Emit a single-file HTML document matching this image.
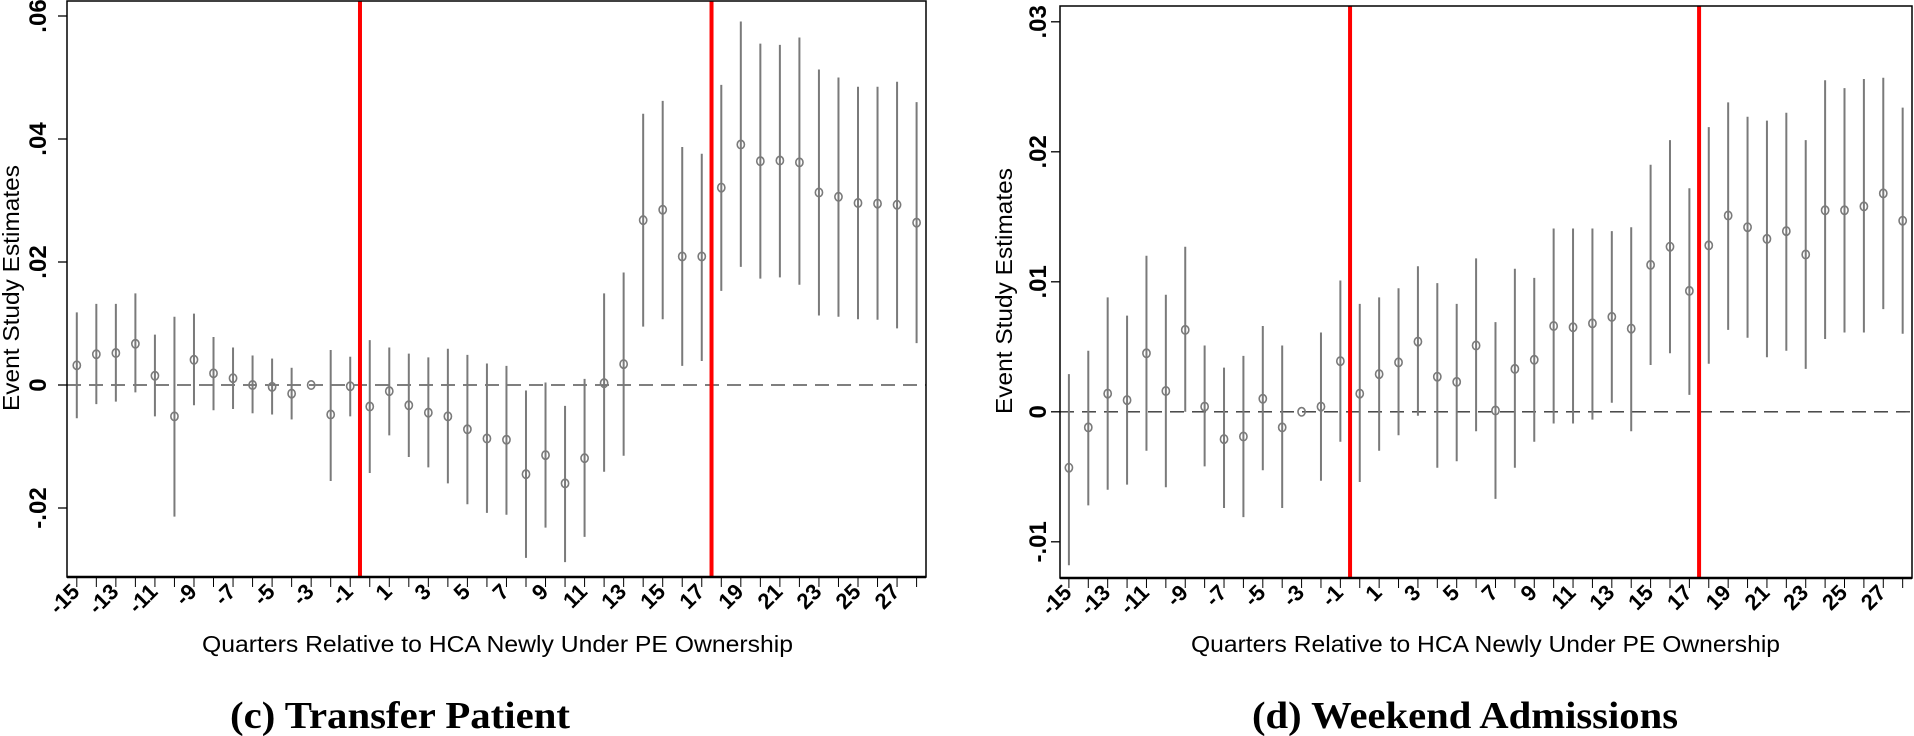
<!DOCTYPE html>
<html><head><meta charset="utf-8"><style>
html,body{margin:0;padding:0;background:#fff;}
svg{display:block;}
</style></head><body>
<svg id="chart" width="1914" height="736" viewBox="0 0 1914 736" xmlns="http://www.w3.org/2000/svg"></svg>
<script>
// quarters relative to event
const quarters = [-15,-14,-13,-12,-11,-10,-9,-8,-7,-6,-5,-4,-3,-2,-1,0,1,2,3,4,5,6,7,8,9,10,11,12,13,14,15,16,17,18,19,20,21,22,23,24,25,26,27,28];
// panel c: transfer patient
const transferEst = [0.0032,0.005,0.0052,0.0067,0.0015,-0.0051,0.0041,0.0019,0.0011,0,-0.0003,-0.0014,0,-0.0048,-0.0002,-0.0035,-0.001,-0.0033,-0.0045,-0.0051,-0.0072,-0.0087,-0.0089,-0.0145,-0.0114,-0.016,-0.0119,0.0003,0.0034,0.0268,0.0285,0.0209,0.0209,0.0321,0.0391,0.0364,0.0365,0.0362,0.0313,0.0306,0.0296,0.0295,0.0293,0.0264];
const transferHi = [0.0118,0.0132,0.0132,0.0149,0.0082,0.0111,0.0116,0.0078,0.0061,0.0048,0.0043,0.0028,0,0.0057,0.0046,0.0073,0.0061,0.0051,0.0045,0.0059,0.0049,0.0035,0.0031,-0.0009,0.0004,-0.0034,0.001,0.0149,0.0183,0.0441,0.0462,0.0387,0.0376,0.0488,0.0591,0.0555,0.0553,0.0565,0.0513,0.05,0.0485,0.0485,0.0493,0.046];
const transferLo = [-0.0054,-0.0031,-0.0027,-0.0012,-0.0051,-0.0214,-0.0033,-0.0041,-0.0039,-0.0046,-0.0048,-0.0056,0,-0.0156,-0.0051,-0.0143,-0.0082,-0.0117,-0.0134,-0.016,-0.0194,-0.0208,-0.0211,-0.0281,-0.0232,-0.0288,-0.0247,-0.0141,-0.0115,0.0095,0.0107,0.0031,0.0039,0.0153,0.0192,0.0173,0.0175,0.0163,0.0113,0.0111,0.0107,0.0106,0.0092,0.0068];
const transferTicks = [-0.02,0,0.02,0.04,0.06];
const transferTickLabels = ["-.02","0",".02",".04",".06"];
// panel d: weekend admissions
const weekendEst = [-0.0043,-0.0012,0.0014,0.0009,0.0045,0.0016,0.0063,0.0004,-0.0021,-0.0019,0.001,-0.0012,0,0.0004,0.0039,0.0014,0.0029,0.0038,0.0054,0.0027,0.0023,0.0051,0.0001,0.0033,0.004,0.0066,0.0065,0.0068,0.0073,0.0064,0.0113,0.0127,0.0093,0.0128,0.0151,0.0142,0.0133,0.0139,0.0121,0.0155,0.0155,0.0158,0.0168,0.0147];
const weekendHi = [0.0029,0.0047,0.0088,0.0074,0.012,0.009,0.0127,0.0051,0.0034,0.0043,0.0066,0.0051,0,0.0061,0.0101,0.0083,0.0088,0.0095,0.0112,0.0099,0.0083,0.0118,0.0069,0.011,0.0103,0.0141,0.0141,0.0141,0.0139,0.0142,0.019,0.0209,0.0172,0.0219,0.0238,0.0227,0.0224,0.023,0.0209,0.0255,0.0249,0.0256,0.0257,0.0234];
const weekendLo = [-0.0118,-0.0072,-0.006,-0.0056,-0.003,-0.0058,0,-0.0042,-0.0074,-0.0081,-0.0045,-0.0074,0,-0.0053,-0.0023,-0.0054,-0.003,-0.0018,-0.0003,-0.0043,-0.0038,-0.0015,-0.0067,-0.0043,-0.0023,-0.0009,-0.0009,-0.0006,0.0007,-0.0015,0.0036,0.0045,0.0013,0.0037,0.0063,0.0057,0.0042,0.0047,0.0033,0.0056,0.0061,0.0061,0.0079,0.006];
const weekendTicks = [-0.01,0,0.01,0.02,0.03];
const weekendTickLabels = ["-.01","0",".01",".02",".03"];
const xTickLabels = [-15,-13,-11,-9,-7,-5,-3,-1,1,3,5,7,9,11,13,15,17,19,21,23,25,27];
const eventLines = [-0.5,17.5];

const NS="http://www.w3.org/2000/svg";
const svg=document.getElementById('chart');
function mk(tag,attrs,parent,txt){const e=document.createElementNS(NS,tag);for(const k in attrs)e.setAttribute(k,attrs[k]);if(txt!==undefined)e.textContent=txt;(parent||svg).appendChild(e);return e;}

function panel(cfg){
  const g=mk('g',{});
  
  
  const xs=q=>cfg.x0+(q-(-15))*cfg.dq;
  const ys=v=>cfg.y0-v*cfg.py;
  const z=mk('line',{x1:cfg.L,x2:cfg.R,y1:ys(0),y2:ys(0),stroke:'#333',"stroke-width":1.3,"stroke-dasharray":"14 8"},g);
  
  
  quarters.forEach((q,i)=>{
    if(cfg.hi[i]!==cfg.lo[i]){
      const l=mk('line',{x1:xs(q),x2:xs(q),y1:ys(cfg.hi[i]),y2:ys(cfg.lo[i]),stroke:'#7a7a7a',"stroke-width":2},g);
      
      
    }
    const c=mk('ellipse',{cx:xs(q),cy:ys(cfg.est[i]),rx:3.6,ry:4.2,fill:'none',stroke:'#7a7a7a',"stroke-width":1.6},g);
    
    
  });
  eventLines.forEach(q=>{
    const r=mk('line',{x1:xs(q),x2:xs(q),y1:cfg.T,y2:cfg.B,stroke:'#ff0000',"stroke-width":4},g);
    
    
  });
  const f=mk('rect',{x:cfg.L,y:cfg.T,width:cfg.R-cfg.L,height:cfg.B-cfg.T,fill:'none',stroke:'#000',"stroke-width":1.5},g);
  
  
  mk('line',{x1:cfg.L,x2:cfg.R,y1:cfg.B,y2:cfg.B,stroke:'#000',"stroke-width":2.5},g);
  cfg.ticks.forEach((t,i)=>{
    const y=ys(t);
    mk('line',{x1:cfg.L-9,x2:cfg.L,y1:y,y2:y,stroke:'#000',"stroke-width":1.3},g);
    const tx=mk('text',{x:cfg.ylabX,y:y,transform:`rotate(-90 ${cfg.ylabX} ${y})`,"text-anchor":"middle","font-family":"Liberation Sans, sans-serif","font-size":24,"font-weight":"bold",fill:'#000'},g,cfg.tickLabels[i]);
    
    
  });
  quarters.forEach(q=>{mk('line',{x1:xs(q),x2:xs(q),y1:cfg.B,y2:cfg.B+10,stroke:'#000',"stroke-width":1},g);});
  xTickLabels.forEach(q=>{
    const x=xs(q)+4,y=cfg.B+16;
    const tx=mk('text',{x:x,y:y,transform:`rotate(-45 ${x} ${y})`,"text-anchor":"end","font-family":"Liberation Sans, sans-serif","font-size":22,"font-weight":"bold",fill:'#000'},g,String(q));
    
    
  });
  const yt=mk('text',{x:cfg.ytitleX,y:cfg.ytitleY,transform:`rotate(-90 ${cfg.ytitleX} ${cfg.ytitleY})`,"text-anchor":"middle","font-family":"Liberation Sans, sans-serif","font-size":23,textLength:246,lengthAdjust:"spacingAndGlyphs",fill:'#000'},g,'Event Study Estimates');
  
  
  const xt=mk('text',{x:cfg.xtitleX,y:652,"text-anchor":"start","font-family":"Liberation Sans, sans-serif","font-size":23,textLength:cfg.xtitleW,lengthAdjust:"spacingAndGlyphs",fill:'#000'},g,'Quarters Relative to HCA Newly Under PE Ownership');
  
  
  const cp=mk('text',{x:cfg.capX,y:728,"text-anchor":"start","font-family":"Liberation Serif, serif","font-size":38,"font-weight":"bold",textLength:cfg.capW,lengthAdjust:"spacingAndGlyphs",fill:'#000'},g,cfg.caption);
  
  
}

panel({name:'transfer-patient-panel',L:67,R:926,T:1,B:577,x0:76.8,dq:19.53,y0:385,py:6150,
  est:transferEst,hi:transferHi,lo:transferLo,ticks:transferTicks,tickLabels:transferTickLabels,
  ylabX:46,ytitleX:19,ytitleY:288,xtitleX:202,xtitleW:591,capX:230,capW:340,caption:'(c) Transfer Patient'});
panel({name:'weekend-admissions-panel',L:1060,R:1912,T:6,B:578,x0:1068.9,dq:19.39,y0:411.8,py:13000,
  est:weekendEst,hi:weekendHi,lo:weekendLo,ticks:weekendTicks,tickLabels:weekendTickLabels,
  ylabX:1046,ytitleX:1012,ytitleY:291,xtitleX:1191,xtitleW:589,capX:1252,capW:426,caption:'(d) Weekend Admissions'});
</script>
</body></html>
